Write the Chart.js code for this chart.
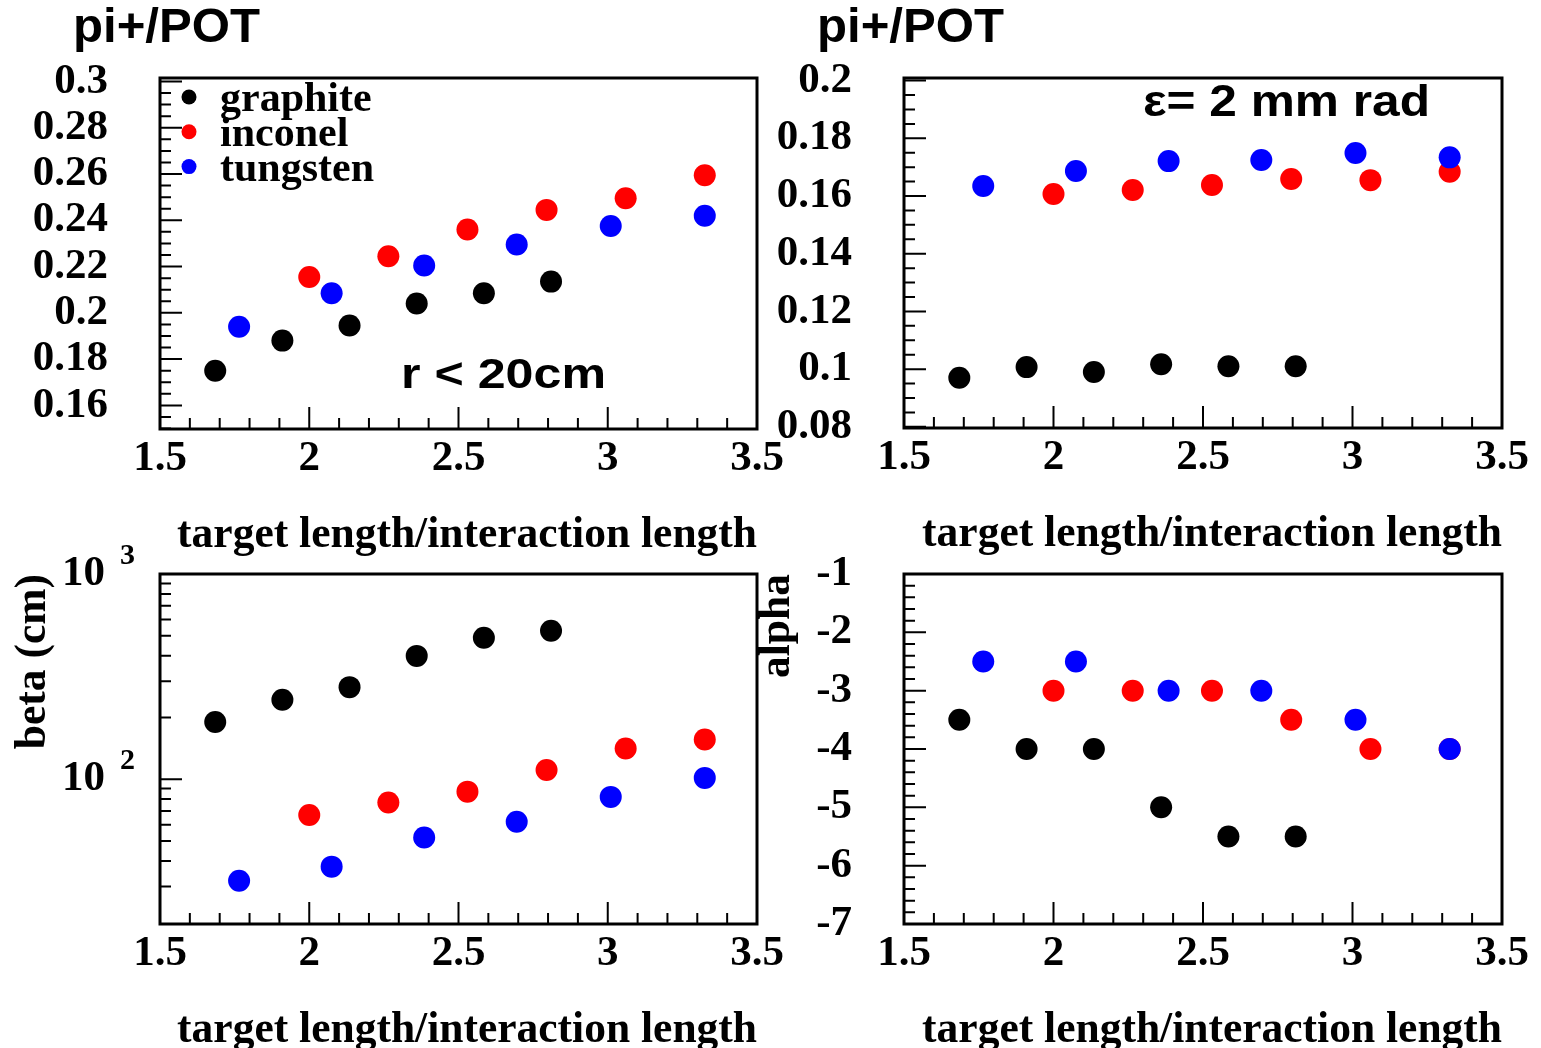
<!DOCTYPE html>
<html>
<head>
<meta charset="utf-8">
<script src="https://cdn.jsdelivr.net/npm/chart.js@4.4.1/dist/chart.umd.min.js"></script>
<style>
  body { margin: 0; background: #fff; }
  #wrap { position: relative; width: 1541px; height: 1048px; }
  #wrap canvas { position: absolute; left: 0; top: 0; }
</style>
</head>
<body>
<div id="wrap">
  <canvas id="pionYield" width="1541" height="1048"></canvas>
  <canvas id="pionYieldEps" width="1541" height="1048"></canvas>
  <canvas id="betaFit" width="1541" height="1048"></canvas>
  <canvas id="alphaFit" width="1541" height="1048"></canvas>
</div>
<script>
const materials = ["graphite", "inconel", "tungsten"];
const colors = ["#000000", "#ff0000", "#0000ff"];

// target length / interaction length for each material
const graphiteX = [1.685, 1.91, 2.135, 2.36, 2.585, 2.81];
const inconelX = [2.0, 2.265, 2.53, 2.795, 3.06, 3.325];
const tungstenX = [1.765, 2.075, 2.385, 2.695, 3.01, 3.325];

// pi+/POT, r < 20cm
const yieldGraphite = [0.175, 0.188, 0.1945, 0.204, 0.2085, 0.2135];
const yieldInconel = [0.2155, 0.2245, 0.236, 0.2445, 0.2495, 0.2595];
const yieldTungsten = [0.194, 0.2085, 0.2205, 0.2295, 0.2375, 0.242];

// pi+/POT, eps = 2 mm rad
const epsGraphite = [0.097, 0.1007, 0.099, 0.1017, 0.101, 0.101];
const epsInconel = [0.1607, 0.1621, 0.1638, 0.1659, 0.1655, 0.1684];
const epsTungsten = [0.1635, 0.1687, 0.1721, 0.1725, 0.1749, 0.1734];

// beta (cm)
const betaGraphite = [190, 244, 281, 399, 489, 529];
const betaInconel = [67, 77, 87, 111, 141, 156];
const betaTungsten = [32, 37.5, 52, 62, 82, 101.5];

// alpha
const alphaGraphite = [-3.5, -4, -4, -5, -5.5, -5.5];
const alphaInconel = [-3, -3, -3, -3.5, -4, -4];
const alphaTungsten = [-2.5, -2.5, -3, -3, -3.5, -4];

const xTitle = "target length/interaction length";

const W = 1541, H = 1048;
const YAXIS_W = 146;
const XAXIS_H = 119.6;

Chart.defaults.color = "#000";
const tickFont = { family: "Liberation Serif", weight: "bold", size: 43, lineHeight: 1.2 };
const titleFont = { family: "Liberation Serif", weight: "bold", size: 43.5, lineHeight: 0.6 };
const yTitleFont = { family: "Liberation Serif", weight: "bold", size: 43.5, lineHeight: 0.9 };

const isMultiple = (v, m) => Math.abs(v / m - Math.round(v / m)) < 1e-6;
const isPow10 = v => Math.abs(Math.log10(v) - Math.round(Math.log10(v))) < 1e-9;
const isNiceLog = v => {
  const m = v / Math.pow(10, Math.floor(Math.log10(v) + 1e-9));
  return Math.abs(m - Math.round(m)) < 1e-6;
};

// ROOT-like frame with inward ticks
const frameTicks = {
  id: "frameTicks",
  afterDatasetsDraw(chart) {
    const { ctx, chartArea: a, scales: { x, y } } = chart;
    ctx.save();
    ctx.strokeStyle = "#000";
    ctx.lineWidth = 2;
    ctx.beginPath();
    x.ticks.forEach(t => {
      const px = x.getPixelForValue(t.value);
      const len = t.label ? 22 : 11;
      ctx.moveTo(px, a.bottom);
      ctx.lineTo(px, a.bottom - len);
    });
    y.ticks.forEach(t => {
      if (y.type === "logarithmic" && !isNiceLog(t.value)) return;
      const py = y.getPixelForValue(t.value);
      const len = t.label ? 22 : 11;
      ctx.moveTo(a.left, py);
      ctx.lineTo(a.left + len, py);
    });
    ctx.stroke();
    ctx.lineWidth = 3;
    ctx.strokeRect(a.left, a.top, a.right - a.left, a.bottom - a.top);
    ctx.restore();
  }
};

function notes(list) {
  return {
    id: "notes",
    afterDraw(chart) {
      const ctx = chart.ctx;
      ctx.save();
      ctx.fillStyle = "#000";
      ctx.textBaseline = "alphabetic";
      list.forEach(n => {
        ctx.font = n.font;
        const w = ctx.measureText(n.text).width;
        ctx.save();
        ctx.translate(n.x, n.y);
        ctx.scale(n.width ? n.width / w : 1, 1);
        ctx.fillText(n.text, 0, 0);
        ctx.restore();
      });
      ctx.restore();
    }
  };
}

const materialLegend = {
  id: "materialLegend",
  afterDraw(chart) {
    const { ctx, chartArea: a } = chart;
    ctx.save();
    ctx.font = "bold 42px 'Liberation Serif'";
    ctx.textBaseline = "alphabetic";
    chart.data.datasets.forEach((ds, i) => {
      const cy = a.top + 19 + i * 34.8;
      ctx.fillStyle = ds.backgroundColor;
      ctx.beginPath();
      ctx.arc(a.left + 29, cy, 7.5, 0, Math.PI * 2);
      ctx.fill();
      ctx.fillStyle = "#000";
      ctx.fillText(ds.label, a.left + 60, cy + 14);
    });
    ctx.restore();
  }
};

const logExponents = {
  id: "logExponents",
  afterDraw(chart) {
    const { ctx, chartArea: a, scales: { y } } = chart;
    ctx.save();
    ctx.font = "bold 30px 'Liberation Serif'";
    ctx.fillStyle = "#000";
    ctx.textAlign = "left";
    ctx.textBaseline = "middle";
    y.ticks.forEach(t => {
      if (!t.label) return;
      ctx.fillText(String(Math.round(Math.log10(t.value))), a.left - 40, y.getPixelForValue(t.value) - 18);
    });
    ctx.restore();
  }
};

function xScale() {
  return {
    type: "linear", min: 1.5, max: 3.5,
    afterFit: s => { s.height = XAXIS_H; },
    grid: { display: false, drawTicks: false }, border: { display: false },
    ticks: {
      stepSize: 0.1, autoSkip: false, maxRotation: 0, minRotation: 0, padding: 4, font: tickFont,
      callback: v => isMultiple(v, 0.5) ? String(+v.toFixed(1)) : ""
    },
    title: { display: true, text: xTitle, align: "end", font: titleFont, padding: 0 }
  };
}

function linearY(min, max, minor, major, title) {
  return {
    type: "linear", min, max,
    afterFit: s => { s.width = YAXIS_W; },
    grid: { display: false, drawTicks: false }, border: { display: false },
    ticks: {
      stepSize: minor, includeBounds: false, autoSkip: false, padding: 52, font: tickFont,
      callback: v => isMultiple(v, major) ? String(+v.toFixed(2)) : ""
    },
    title: title ? { display: true, text: title, align: "end", font: yTitleFont, padding: 0 } : { display: false }
  };
}

function panel(id, frame, yScale, ys, extra) {
  const xs = [graphiteX, inconelX, tungstenX];
  return new Chart(document.getElementById(id), {
    type: "scatter",
    data: {
      datasets: ys.map((yv, i) => ({
        label: materials[i],
        data: xs[i].map((x, j) => ({ x, y: yv[j] })),
        backgroundColor: colors[i],
        borderWidth: 0,
        pointRadius: 11,
        pointHoverRadius: 11,
        order: 3 - i
      }))
    },
    options: {
      responsive: false,
      animation: false,
      events: [],
      layout: {
        autoPadding: false,
        padding: { left: frame.l - YAXIS_W, top: frame.t, right: W - frame.r, bottom: H - frame.b - XAXIS_H }
      },
      plugins: { legend: { display: false }, tooltip: { enabled: false } },
      scales: { x: xScale(), y: yScale }
    },
    plugins: [frameTicks].concat(extra)
  });
}

panel("pionYield", { l: 160, t: 78, r: 757, b: 429 },
  linearY(0.1498, 0.3015, 0.005, 0.02),
  [yieldGraphite, yieldInconel, yieldTungsten],
  [materialLegend, notes([
    { text: "pi+/POT", x: 73, y: 42, font: "bold 48px 'Liberation Sans'", width: 187 },
    { text: "r < 20cm", x: 401, y: 388, font: "bold 42px 'Liberation Sans'", width: 205 }
  ])]);

panel("pionYieldEps", { l: 904, t: 78, r: 1502, b: 428 },
  linearY(0.0796, 0.2009, 0.005, 0.02),
  [epsGraphite, epsInconel, epsTungsten],
  [notes([
    { text: "pi+/POT", x: 817, y: 42, font: "bold 48px 'Liberation Sans'", width: 187 },
    { text: "\u03b5= 2 mm rad", x: 1143, y: 116, font: "bold 44px 'Liberation Sans'", width: 287 }
  ])]);

panel("betaFit", { l: 160, t: 574, r: 757, b: 924 },
  {
    type: "logarithmic", min: 19.7, max: 1000,
    afterFit: s => { s.width = YAXIS_W; },
    grid: { display: false, drawTicks: false }, border: { display: false },
    ticks: { autoSkip: false, padding: 55, font: tickFont, callback: v => isPow10(v) ? "10" : "" },
    title: { display: true, text: "beta (cm)", align: "end", font: yTitleFont, padding: 0 }
  },
  [betaGraphite, betaInconel, betaTungsten],
  [logExponents]);

panel("alphaFit", { l: 904, t: 574, r: 1502, b: 924 },
  linearY(-7, -1, 0.2, 1, "alpha"),
  [alphaGraphite, alphaInconel, alphaTungsten],
  []);
</script>
</body>
</html>
